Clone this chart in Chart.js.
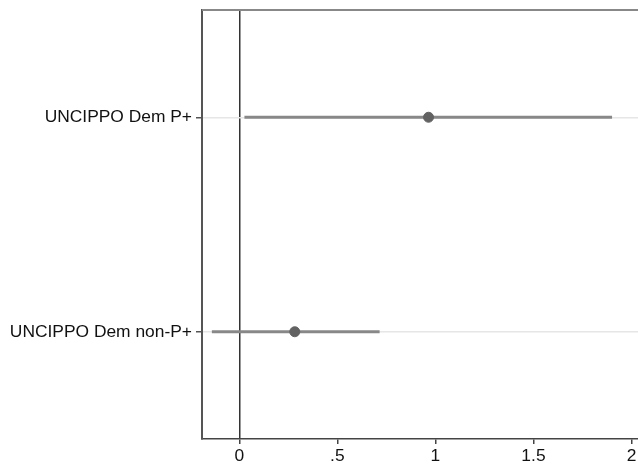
<!DOCTYPE html>
<html>
<head>
<meta charset="utf-8">
<script src="https://cdn.jsdelivr.net/npm/chart.js@4"></script>
<style>
  html,body{margin:0;padding:0;background:#fff;}
  #wrap{width:638px;height:468px;}
</style>
</head>
<body>
<div id="wrap"><canvas id="c" width="638" height="468"></canvas></div>
<script>
// coefficient estimates with confidence intervals
const categories = ["UNCIPPO Dem P+", "UNCIPPO Dem non-P+"];
const estimates = [0.965, 0.283];
const ciLow = [0.028, -0.138];
const ciHigh = [1.899, 0.714];
const xTicks = [0, 0.5, 1, 1.5, 2];

const font = { family: "'Liberation Sans', Arial, Helvetica, sans-serif", size: 17.4 };

// draws the top frame line of the plot region
const frameTop = {
  id: "frameTop",
  afterDraw(chart){
    const a = chart.chartArea, ctx = chart.ctx;
    ctx.save();
    ctx.strokeStyle = "#888";
    ctx.lineWidth = 2;
    ctx.beginPath();
    ctx.moveTo(a.left, a.top);
    ctx.lineTo(chart.width, a.top);
    ctx.stroke();
    ctx.restore();
  }
};

new Chart(document.getElementById("c").getContext("2d"), {
  type: "bar",
  data: {
    labels: categories,
    datasets: [
      {
        type: "line",
        label: "Estimate",
        data: estimates,
        showLine: false,
        pointRadius: 5,
        pointBackgroundColor: "#626262",
        pointBorderColor: "#626262",
        order: 0
      },
      {
        label: "CI",
        data: categories.map((c, i) => [ciLow[i], ciHigh[i]]),
        backgroundColor: "#888",
        barThickness: 2.5,
        borderWidth: 0,
        order: 1
      }
    ]
  },
  options: {
    indexAxis: "y",
    responsive: false,
    animation: false,
    layout: { autoPadding: false, padding: { top: 10, right: 0, left: 0, bottom: 0 } },
    plugins: { legend: { display: false }, tooltip: { enabled: false } },
    scales: {
      x: {
        type: "linear",
        min: -0.19,
        max: 2.033,
        afterBuildTicks: s => { s.ticks = xTicks.map(v => ({ value: v })); },
        afterFit: s => { s.height = 29; s.paddingRight = 0; s.paddingLeft = 0; },
        border: { color: "#444", width: 1.5 },
        grid: {
          color: c => (c.tick && c.tick.value === 0) ? "#333" : "rgba(0,0,0,0)",
          lineWidth: 1.5,
          tickColor: "#444",
          tickLength: 5
        },
        ticks: {
          color: "#111",
          font: font,
          padding: 2,
          maxRotation: 0,
          callback: v => String(v).replace(/^0\./, ".")
        }
      },
      y: {
        type: "category",
        offset: true,
        afterFit: s => { s.width = 202; s.paddingTop = 0; s.paddingBottom = 0; },
        border: { color: "#555", width: 2 },
        grid: {
          offset: false,
          color: "#e6e6e6",
          lineWidth: 1.5,
          tickColor: "#555",
          tickLength: 6
        },
        ticks: { color: "#111", font: font, padding: 4 }
      }
    }
  },
  plugins: [frameTop]
});
</script>
</body>
</html>
